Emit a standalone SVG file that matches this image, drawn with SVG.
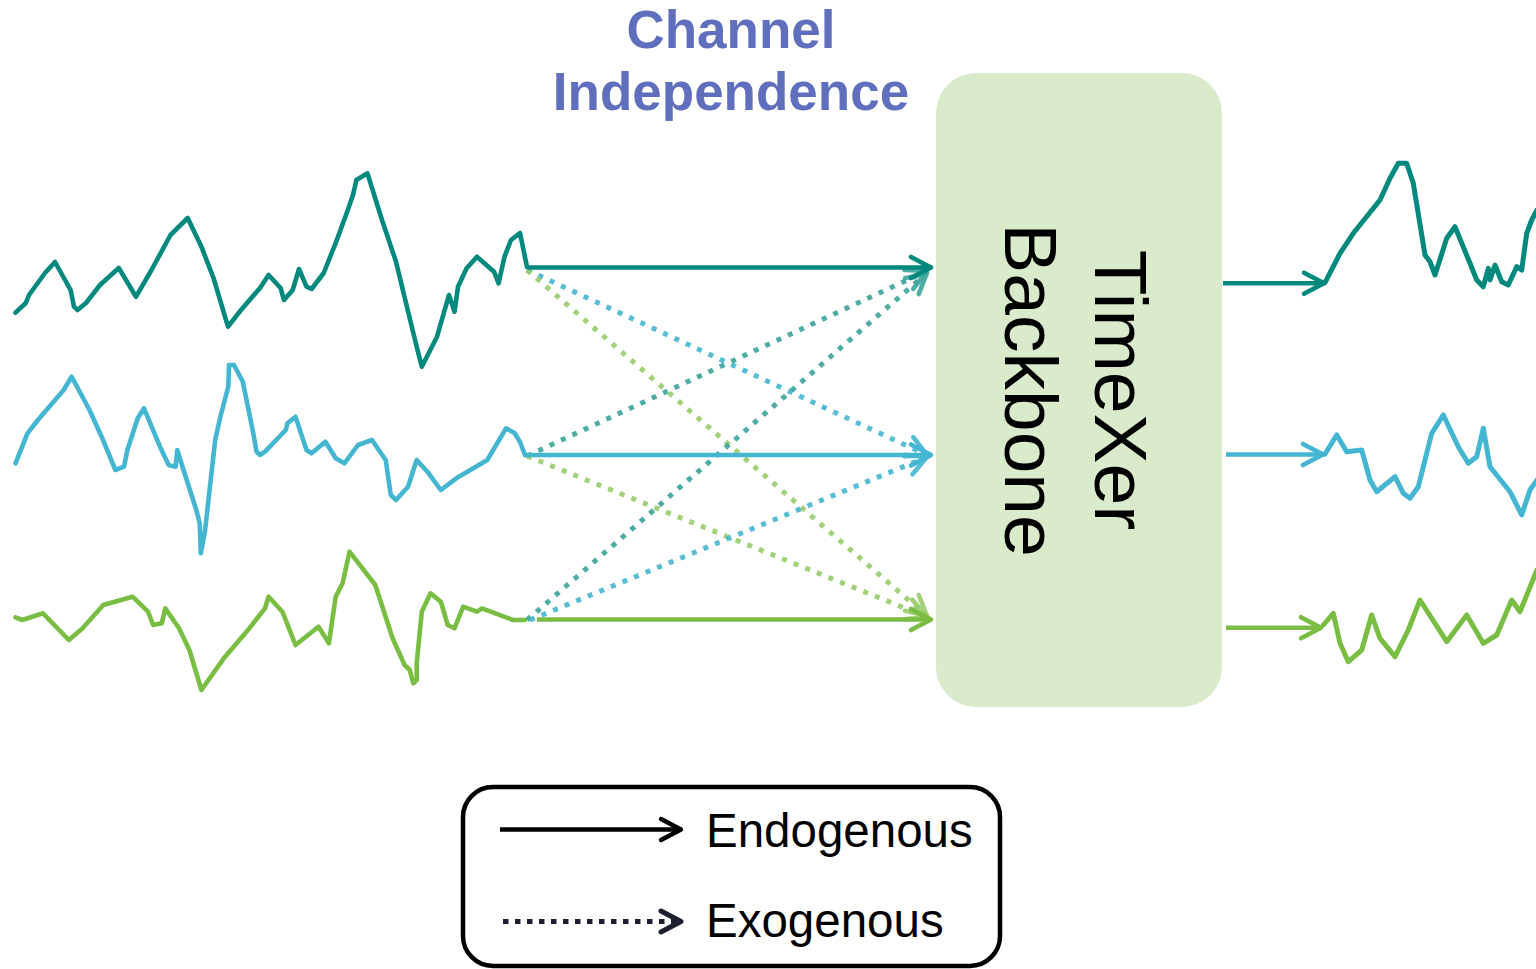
<svg xmlns="http://www.w3.org/2000/svg" width="1536" height="969" viewBox="0 0 1536 969">
<style>
.ser{fill:none;stroke-width:4.6;stroke-linejoin:round;stroke-linecap:round}
.teal{stroke:#01897d}
.blue{stroke:#44b6d1}
.green{stroke:#79bd42}
.arr{fill:none;stroke-width:4.4}
.dot{fill:none;stroke-width:5;stroke-dasharray:5 7.5;opacity:0.9}
.lbl{font-family:"Liberation Sans",Arial,sans-serif;fill:#000}
.title{font-family:"Liberation Sans",Arial,sans-serif;font-weight:bold;font-size:53px;fill:#5f6fbd;text-anchor:middle}
</style>
<defs>
<marker id="mTeal" markerUnits="userSpaceOnUse" viewBox="-26 -16 30 32" refX="0" refY="0" markerWidth="30" markerHeight="32" orient="auto" overflow="visible">
<path d="M-20,-10.5 L0,0 L-20,10.5" fill="none" stroke="#01897d" stroke-width="4.6" stroke-linecap="round" stroke-linejoin="round"/>
</marker>
<marker id="mBlue" markerUnits="userSpaceOnUse" viewBox="-26 -16 30 32" refX="0" refY="0" markerWidth="30" markerHeight="32" orient="auto" overflow="visible">
<path d="M-20,-10.5 L0,0 L-20,10.5" fill="none" stroke="#44b6d1" stroke-width="4.6" stroke-linecap="round" stroke-linejoin="round"/>
</marker>
<marker id="mGreen" markerUnits="userSpaceOnUse" viewBox="-26 -16 30 32" refX="0" refY="0" markerWidth="30" markerHeight="32" orient="auto" overflow="visible">
<path d="M-20,-10.5 L0,0 L-20,10.5" fill="none" stroke="#79bd42" stroke-width="4.6" stroke-linecap="round" stroke-linejoin="round"/>
</marker>
<marker id="mTealL" markerUnits="userSpaceOnUse" viewBox="-26 -16 30 32" refX="0" refY="0" markerWidth="30" markerHeight="32" orient="auto" overflow="visible">
<path d="M-20,-10.5 L0,0 L-20,10.5" fill="none" stroke="#3aa59c" stroke-width="4.6" stroke-linecap="round" stroke-linejoin="round"/>
</marker>
<marker id="mBlueL" markerUnits="userSpaceOnUse" viewBox="-26 -16 30 32" refX="0" refY="0" markerWidth="30" markerHeight="32" orient="auto" overflow="visible">
<path d="M-20,-10.5 L0,0 L-20,10.5" fill="none" stroke="#44b6d1" stroke-width="4.6" stroke-linecap="round" stroke-linejoin="round"/>
</marker>
<marker id="mGreenL" markerUnits="userSpaceOnUse" viewBox="-26 -16 30 32" refX="0" refY="0" markerWidth="30" markerHeight="32" orient="auto" overflow="visible">
<path d="M-20,-10.5 L0,0 L-20,10.5" fill="none" stroke="#98cd6c" stroke-width="4.6" stroke-linecap="round" stroke-linejoin="round"/>
</marker>
<marker id="mBlack" markerUnits="userSpaceOnUse" viewBox="-26 -16 30 32" refX="0" refY="0" markerWidth="30" markerHeight="32" orient="auto" overflow="visible">
<path d="M-20,-10.5 L0,0 L-20,10.5" fill="none" stroke="#000" stroke-width="4.4" stroke-linecap="round" stroke-linejoin="round"/>
</marker>
<marker id="mNavy" markerUnits="userSpaceOnUse" viewBox="-26 -16 30 32" refX="0" refY="0" markerWidth="30" markerHeight="32" orient="auto" overflow="visible">
<path d="M-20,-10.5 L0,0 L-20,10.5" fill="none" stroke="#1b1f2e" stroke-width="5" stroke-linecap="round" stroke-linejoin="round"/>
</marker>
</defs>
<rect width="1536" height="969" fill="#ffffff"/>

<g id="title">
<text class="title" x="731" y="48">Channel</text>
<text class="title" x="731" y="110">Independence</text>
</g>

<g id="input-teal">
<polyline class="ser teal" points="15.5,312.7 25.8,303 29,295 45,273 55,262 70.6,290 74,306.7 77.5,310 86,303 100,285 118.8,268 136,296.7 151.5,270 170.5,235 187.7,218 201.4,246.7 213.5,278 228,326.7 241,310 260,288 268.6,275 280.6,288 284,300 292.7,290 299,269 306.5,286.7 311.6,289 323.7,273 335.7,243 346,215 353,195 356.4,180 367.4,173.3 382,220 396,261.7 406,303 416.7,346.7 421.8,366.7 437,336.7 449,295 454.5,311.7 458,286.7 466.6,268.3 477,256.7 494,271.7 498.6,283.3 504.5,256.7 511,240 520,233 527,267"/>
</g>
<g id="input-blue">
<polyline class="ser blue" points="15.5,463.3 27.5,433.3 37.9,420 63.7,390 71.6,376.7 89.5,410 101.6,436.7 115.4,470 124,466.7 127.4,450 137.7,418.3 144,408.3 160,446.7 168.7,465 175.6,466.7 177.3,450 182.5,466.7 196.3,510 199.7,523.3 200.8,553.3 204.9,531.7 215.2,440 220.4,416.7 228.3,386.7 229,365 234,365 242.8,381.7 253,431.7 256.5,451.7 260,455 265,451.7 285.8,430 287.5,423.3 295.5,416.7 306.5,450 311.6,453.3 325.4,441.7 335.7,458.3 344.4,463.3 358,445 372,440 385.7,460 390.8,495 396,500 408,486.7 416.7,460 428.7,473.3 440.8,490 456.3,478.3 487.3,460 506,428.3 514.8,433.3 520,442 525,455"/>
</g>
<g id="input-green">
<polyline class="ser green" points="15.5,617.3 22.4,620 43,613.3 68.9,640 82.6,628.3 103.3,605 132.6,596.7 148,611.7 153.2,625 161.8,623.3 165.3,608.3 179,628.3 189.4,650 201.4,690 223.8,658.3 248,630 265,608.3 268.6,596.7 282.4,611.7 295.5,645 318.5,626.7 328.9,643.3 335.7,596.7 342.6,583.3 349.5,551.7 375.3,585 392.6,638.3 404.6,665 409.8,670 413.2,683.3 416.7,680 416.7,663.3 421.8,611.7 430.5,593.3 440.8,601.7 447.7,625 454.5,628.3 463.2,606.7 477,611.7 482,608.3 513,620 525,620"/>
</g>

<g id="backbone">
<rect x="936" y="73" width="286" height="634" rx="40" ry="40" fill="#d9ebca"/>
<text class="lbl" x="1095" y="390" font-size="75" text-anchor="middle" transform="rotate(90 1095 390)">TimeXer</text>
<text class="lbl" x="1005" y="390" font-size="75" text-anchor="middle" transform="rotate(90 1005 390)">Backbone</text>
</g>

<g id="connectors">
<line class="dot" x1="527" y1="270" x2="927" y2="455" stroke="#44b6d1" marker-end="url(#mBlueL)"/>
<line class="dot" x1="527" y1="270" x2="927" y2="616" stroke="#98cd6c" marker-end="url(#mGreenL)"/>
<line class="dot" x1="527" y1="456" x2="927" y2="271" stroke="#3aa59c" marker-end="url(#mTealL)"/>
<line class="dot" x1="527" y1="456" x2="927" y2="617" stroke="#98cd6c" marker-end="url(#mGreenL)"/>
<line class="dot" x1="527" y1="620" x2="927" y2="273" stroke="#3aa59c" marker-end="url(#mTealL)"/>
<line class="dot" x1="530" y1="620" x2="927" y2="457" stroke="#44b6d1" marker-end="url(#mBlueL)"/>
<line class="arr teal" x1="527" y1="267.5" x2="931" y2="267.5" marker-end="url(#mTeal)"/>
<line class="arr blue" x1="525" y1="455" x2="931" y2="455" marker-end="url(#mBlue)"/>
<line class="arr green" x1="537" y1="619.5" x2="931" y2="619.5" marker-end="url(#mGreen)"/>
<line class="arr teal" x1="1223" y1="283.3" x2="1324" y2="283.3" marker-end="url(#mTeal)"/>
<line class="arr blue" x1="1226" y1="454.5" x2="1323" y2="454.5" marker-end="url(#mBlue)"/>
<line class="arr green" x1="1226" y1="627.7" x2="1321" y2="627.7" marker-end="url(#mGreen)"/>
</g>

<g id="output-teal">
<polyline class="ser teal" style="stroke-width:5" points="1325,282.7 1340,253.3 1353.3,233.3 1380,200 1390,178.3 1398.3,163.3 1406.7,163.3 1413.3,183.3 1425,255 1430,261.7 1435,275 1446.7,238.3 1455,226.7 1470,263.3 1476.7,280 1483.3,286.7 1488.3,268.3 1490,280 1495,265 1501.7,281.7 1508.3,285 1516.7,266.7 1521.7,270 1526.7,233.3 1531.7,220 1537,210"/>
</g>
<g id="output-blue">
<polyline class="ser blue" style="stroke-width:5" points="1325,454 1336.7,435 1346.7,451.7 1361.7,450 1370,480 1376.7,491.7 1395,476.7 1403.3,493.3 1410,498.3 1418.3,486.7 1431.7,433.3 1443.3,415 1458.3,446.7 1468.3,463.3 1476.7,456.7 1483.3,428.3 1490,466.7 1510,491.7 1521.7,515 1530,490 1537,480"/>
</g>
<g id="output-green">
<polyline class="ser green" style="stroke-width:5" points="1323.3,625 1333.3,613.3 1340,643.3 1348.3,661.7 1361.7,650 1371.7,615 1380,638.3 1395,656.7 1408.3,630 1420,600 1446.7,641.7 1466.7,615 1483.3,643.3 1496.7,635 1511.7,600 1520,611.7 1537,570"/>
</g>

<g id="legend">
<rect x="463" y="787" width="537" height="179" rx="30" ry="30" fill="#ffffff" stroke="#000" stroke-width="4.5"/>
<line x1="500" y1="829.5" x2="681" y2="829.5" stroke="#000" stroke-width="4.4" marker-end="url(#mBlack)"/>
<line x1="503" y1="921.5" x2="681" y2="921.5" stroke="#1b1f2e" stroke-width="5" stroke-dasharray="5.5 6.5" marker-end="url(#mNavy)"/>
<text class="lbl" x="706" y="847" font-size="47.5">Endogenous</text>
<text class="lbl" x="706" y="937" font-size="47.5">Exogenous</text>
</g>
</svg>
